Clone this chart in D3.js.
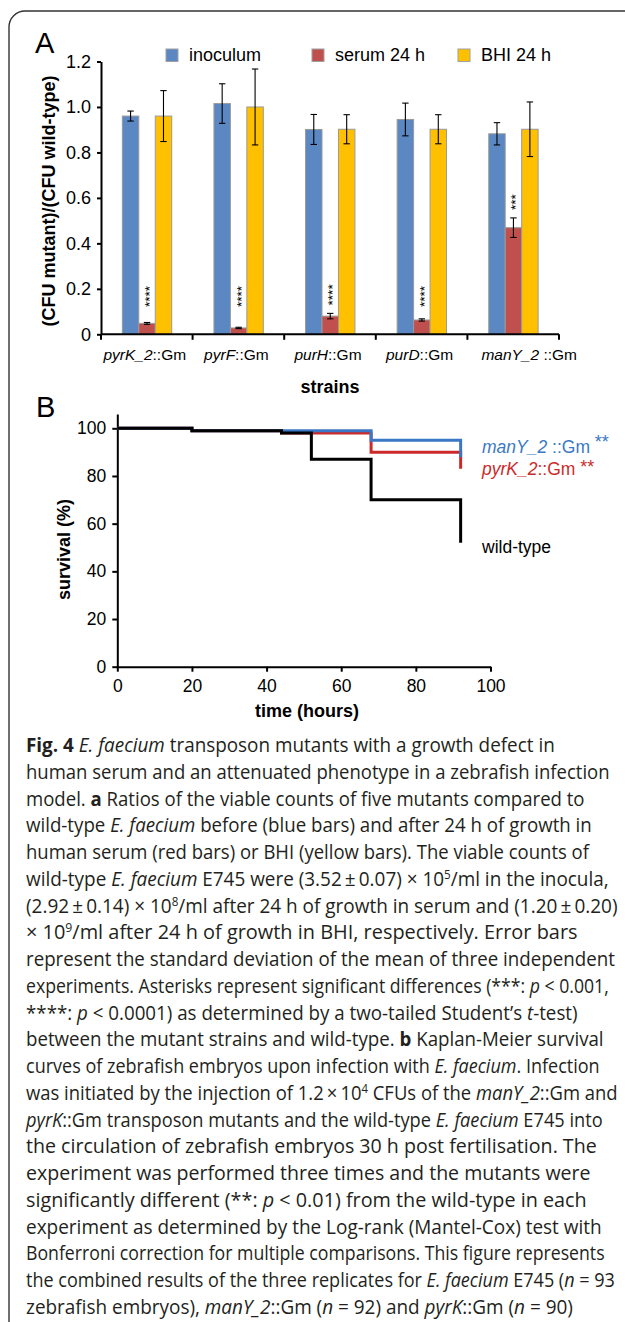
<!DOCTYPE html>
<html><head><meta charset="utf-8">
<script src="https://cdn.jsdelivr.net/npm/d3@7"></script>
<style>
html,body{margin:0;padding:0;background:#fff;}
svg{display:block;}
</style></head>
<body>
<script>
// ---------- Panel A data ----------
const strains = ["pyrK_2", "pyrF", "purH", "purD", "manY_2 "];
const strainSuffix = "::Gm";
const seriesNames = ["inoculum", "serum 24 h", "BHI 24 h"];
const seriesColors = ["#5b87c3", "#c0504d", "#ffc000"];
const inoculum = [0.960, 1.015, 0.901, 0.945, 0.882];
const inoculumErr = [0.022, 0.087, 0.066, 0.072, 0.049];
const serum = [0.048, 0.028, 0.080, 0.063, 0.469];
const serumErr = [0.004, 0.003, 0.012, 0.005, 0.043];
const bhi = [0.960, 1.000, 0.902, 0.902, 0.902];
const bhiErr = [0.112, 0.167, 0.064, 0.064, 0.120];
const serumStars = ["****", "****", "****", "****", "***"];
const yTicksA = [0, 0.2, 0.4, 0.6, 0.8, 1.0, 1.2];

// ---------- Panel B data ----------
const wtTime = [0, 20, 44, 52, 68, 92];
const wtSurv = [100, 99, 98, 87, 70, 52];
const manYTime = [0, 20, 68, 92];
const manYSurv = [100, 99, 95, 88];
const pyrKTime = [0, 20, 44, 68, 92];
const pyrKSurv = [100, 99, 98, 90, 83];
const xTicksB = [0, 20, 40, 60, 80, 100];
const yTicksB = [0, 20, 40, 60, 80, 100];

// ---------- Caption text ----------
const captionLines = [
 [["Fig. 4","b"],[" "],["E. faecium","i"],[" transposon mutants with a growth defect in"]],
 [["human serum and an attenuated phenotype in a zebrafish infection"]],
 [["model. "],["a","b"],[" Ratios of the viable counts of five mutants compared to"]],
 [["wild-type "],["E. faecium","i"],[" before (blue bars) and after 24 h of growth in"]],
 [["human serum (red bars) or BHI (yellow bars). The viable counts of"]],
 [["wild-type "],["E. faecium","i"],[" E745 were (3.52\u2009±\u20090.07) × 10"],["5","s"],["/ml in the inocula,"]],
 [["(2.92\u2009±\u20090.14) × 10"],["8","s"],["/ml after 24 h of growth in serum and (1.20\u2009±\u20090.20)"]],
 [["× 10"],["9","s"],["/ml after 24 h of growth in BHI, respectively. Error bars"]],
 [["represent the standard deviation of the mean of three independent"]],
 [["experiments. Asterisks represent significant differences (***: "],["p","i"],[" < 0.001,"]],
 [["****: "],["p","i"],[" < 0.0001) as determined by a two-tailed Student\u2019s "],["t","i"],["-test)"]],
 [["between the mutant strains and wild-type. "],["b","b"],[" Kaplan-Meier survival"]],
 [["curves of zebrafish embryos upon infection with "],["E. faecium","i"],[". Infection"]],
 [["was initiated by the injection of 1.2\u2009×\u200910"],["4","s"],[" CFUs of the "],["manY_2","i"],["::Gm and"]],
 [["pyrK","i"],["::Gm transposon mutants and the wild-type "],["E. faecium","i"],[" E745 into"]],
 [["the circulation of zebrafish embryos 30 h post fertilisation. The"]],
 [["experiment was performed three times and the mutants were"]],
 [["significantly different (**: "],["p","i"],[" < 0.01) from the wild-type in each"]],
 [["experiment as determined by the Log-rank (Mantel-Cox) test with"]],
 [["Bonferroni correction for multiple comparisons. This figure represents"]],
 [["the combined results of the three replicates for "],["E. faecium","i"],[" E745 ("],["n","i"],[" = 93"]],
 [["zebrafish embryos), "],["manY_2","i"],["::Gm ("],["n","i"],[" = 92) and "],["pyrK","i"],["::Gm ("],["n","i"],[" = 90)"]]
];
// ragged-right line ends of the caption as typeset in the reference (page layout, not data)
const captionLineEnds = [555,610,585,592,589,609,618,578,615,609,578,604,600,618,603,597,591,587,602,605,615,573];

const W = 625, H = 1322;
const FONT = "'Liberation Sans', Arial, Helvetica, sans-serif";
const svg = d3.select("body").append("svg").attr("width", W).attr("height", H)
  .style("font-family", FONT);

// frame
svg.append("path")
  .attr("d", "M9," + H + " V27 A16,16 0 0 1 25,11 H" + W)
  .attr("fill", "none").attr("stroke", "#333").attr("stroke-width", 1.4);

// ================= Panel A =================
const gA = svg.append("g");
const ya = d3.scaleLinear().domain([0, 1.2]).range([334.3, 61.5]);
const xa = d3.scaleBand().domain(strains).range([101, 559]);
const bw = xa.bandwidth();
const xin = d3.scaleBand().domain(d3.range(3)).range([bw * 0.233, bw * 0.772]);

gA.append("text").attr("x", 35).attr("y", 53).attr("font-size", 29).text("A");

// legend
const legX = d3.scaleLinear().domain([0, 1]).range([166, 312]);
seriesNames.forEach((s, i) => {
  gA.append("rect").attr("x", legX(i)).attr("y", 49).attr("width", 12).attr("height", 12.5)
    .attr("fill", seriesColors[i]).attr("stroke", "#a0a0a0").attr("stroke-width", 1);
  gA.append("text").attr("x", legX(i) + 23).attr("y", 61).attr("font-size", 18).text(s);
});

// y axis
const axA = gA.append("g").attr("transform", "translate(101,0)")
  .call(d3.axisLeft(ya).tickValues(yTicksA).tickSize(4).tickSizeOuter(0).tickPadding(6)
    .tickFormat(d => d === 0 ? "0" : d.toFixed(1)));
axA.selectAll("text").attr("font-size", 18).attr("font-family", FONT).attr("fill", "#000");
axA.selectAll("line,path").attr("stroke", "#000").attr("stroke-width", 2);

// bars
const seriesVals = [inoculum, serum, bhi];
const seriesErrs = [inoculumErr, serumErr, bhiErr];
seriesVals.forEach((vals, si) => {
  gA.selectAll(null).data(strains).enter().append("rect")
    .attr("x", (d) => xa(d) + xin(si))
    .attr("y", (d, i) => ya(vals[i]))
    .attr("width", xin.bandwidth())
    .attr("height", (d, i) => ya(0) - ya(vals[i]))
    .attr("fill", seriesColors[si]).attr("stroke", "#9a9a9a").attr("stroke-width", 1);
});
// error bars
seriesVals.forEach((vals, si) => {
  const errs = seriesErrs[si];
  strains.forEach((d, i) => {
    const cx = xa(d) + xin(si) + xin.bandwidth() / 2;
    const y1 = ya(vals[i] + errs[i]), y2 = ya(vals[i] - errs[i]);
    const g = gA.append("g").attr("stroke", "#000").attr("stroke-width", 1.1);
    g.append("line").attr("x1", cx).attr("x2", cx).attr("y1", y1).attr("y2", y2);
    g.append("line").attr("x1", cx - 3.2).attr("x2", cx + 3.2).attr("y1", y1).attr("y2", y1);
    g.append("line").attr("x1", cx - 3.2).attr("x2", cx + 3.2).attr("y1", y2).attr("y2", y2);
  });
});
// stars
strains.forEach((d, i) => {
  const cx = xa(d) + xin(1) + xin.bandwidth() / 2;
  const yb0 = Math.min(ya(serum[i] + serumErr[i]) - 8, ya(0.12));
  gA.append("text").attr("transform", `translate(${cx + 7},${yb0}) rotate(-90)`)
    .attr("font-size", 13.5).text(serumStars[i]);
});

// x axis
const xAxisY = ya(0);
gA.append("line").attr("x1", xa.range()[0]).attr("x2", xa.range()[1])
  .attr("y1", xAxisY).attr("y2", xAxisY).attr("stroke", "#000").attr("stroke-width", 2);
const bounds = strains.map(d => xa(d)).concat([xa.range()[1]]);
gA.selectAll(null).data(bounds).enter().append("line")
  .attr("x1", d => d).attr("x2", d => d).attr("y1", xAxisY).attr("y2", xAxisY + 5.5)
  .attr("stroke", "#000").attr("stroke-width", 2);
strains.forEach((d, i) => {
  const t = gA.append("text").attr("x", xa(d) + bw / 2 + (i === strains.length - 1 ? 16 : -2))
    .attr("y", 360).attr("font-size", 15.5).attr("text-anchor", "middle")
    .attr("xml:space", "preserve");
  t.append("tspan").attr("font-style", "italic").text(d);
  t.append("tspan").text(strainSuffix);
});
gA.append("text").attr("x", (xa.range()[0] + xa.range()[1]) / 2).attr("y", 393)
  .attr("font-size", 18).attr("font-weight", "bold").attr("text-anchor", "middle").text("strains");
gA.append("text").attr("transform", `translate(55,${(ya(0) + ya(1.2)) / 2 + 3}) rotate(-90)`)
  .attr("font-size", 18).attr("font-weight", "bold").attr("text-anchor", "middle")
  .text("(CFU mutant)/(CFU wild-type)");

// ================= Panel B =================
const gB = svg.append("g");
const xb = d3.scaleLinear().domain([0, 100]).range([117.3, 490.5]);
const yb = d3.scaleLinear().domain([0, 106]).range([666.7, 666.7 - 106 * 2.384]);

gB.append("text").attr("x", 36).attr("y", 416.5).attr("font-size", 29).text("B");

const axBy = gB.append("g").attr("transform", `translate(${xb(0)},0)`)
  .call(d3.axisLeft(yb).tickValues(yTicksB).tickSize(5).tickSizeOuter(0).tickPadding(6));
const axBx = gB.append("g").attr("transform", `translate(0,${yb(0)})`)
  .call(d3.axisBottom(xb).tickValues(xTicksB).tickSize(5).tickSizeOuter(0).tickPadding(7.5));
[axBy, axBx].forEach(a => {
  a.selectAll("text").attr("font-size", 17.5).attr("font-family", FONT).attr("fill", "#000");
  a.selectAll("line,path").attr("stroke", "#000").attr("stroke-width", 2);
});

const curve = d3.line().x(d => xb(d[0])).y(d => yb(d[1])).curve(d3.curveStepAfter);
const curves = [
  {t: pyrKTime, s: pyrKSurv, c: "#cc2a2a"},
  {t: manYTime, s: manYSurv, c: "#3a78c6"},
  {t: wtTime, s: wtSurv, c: "#000"}
];
curves.forEach(cv => {
  gB.append("path").datum(cv.t.map((t, i) => [t, cv.s[i]]))
    .attr("d", curve).attr("fill", "none").attr("stroke", cv.c).attr("stroke-width", 3)
    .attr("stroke-linejoin", "miter").attr("stroke-linecap", "butt");
});

function seriesLabel(y, ital, rest, stars, color, raise) {
  const t = gB.append("text").attr("x", 482).attr("y", y).attr("font-size", 17.5)
    .attr("fill", color).attr("xml:space", "preserve");
  t.append("tspan").attr("font-style", "italic").text(ital);
  t.append("tspan").text(rest);
  if (stars) {
    const w = t.node().getComputedTextLength();
    gB.append("text").attr("x", 482 + w).attr("y", y - raise).attr("font-size", 18)
      .attr("fill", color).text(stars);
  }
}
seriesLabel(452.7, "manY_2 ", "::Gm ", "**", "#3a78c6", 5);
seriesLabel(475, "pyrK_2", "::Gm ", "**", "#cc2a2a", 2);
seriesLabel(553.3, "", "wild-type", "", "#000", 0);

gB.append("text").attr("x", (xb(0) + xb(100)) / 2 + 3).attr("y", 716.7)
  .attr("font-size", 18).attr("font-weight", "bold").attr("text-anchor", "middle").text("time (hours)");
gB.append("text").attr("transform", `translate(70,${(yb(0) + yb(100)) / 2 + 2}) rotate(-90)`)
  .attr("font-size", 18).attr("font-weight", "bold").attr("text-anchor", "middle").text("survival (%)");

// ================= Caption =================
const capX = 26;
const cap = svg.append("g").attr("font-family", "'Open Sans', 'Noto Sans', sans-serif")
  .attr("font-size", 19.5).attr("fill", "#231f20");
captionLines.forEach((segs, li) => {
  const y = 752 + li * 26.75;
  const t = cap.append("text").attr("x", 0).attr("y", 0).attr("xml:space", "preserve");
  let pending = 0;
  segs.forEach(seg => {
    const [txt, st] = seg;
    if (st === "s") {
      t.append("tspan").attr("dy", -7).attr("font-size", 12).text(txt);
      pending = 7;
    } else {
      const sp = t.append("tspan").text(txt);
      if (pending) { sp.attr("dy", pending); pending = 0; }
      if (st === "b") sp.attr("font-weight", "bold");
      if (st === "i") sp.attr("font-style", "italic");
    }
  });
  const natural = t.node().getComputedTextLength();
  const sx = (captionLineEnds[li] - capX) / natural;
  t.attr("transform", `translate(${capX},${y}) scale(${sx},1)`);
});
</script>
</body></html>
